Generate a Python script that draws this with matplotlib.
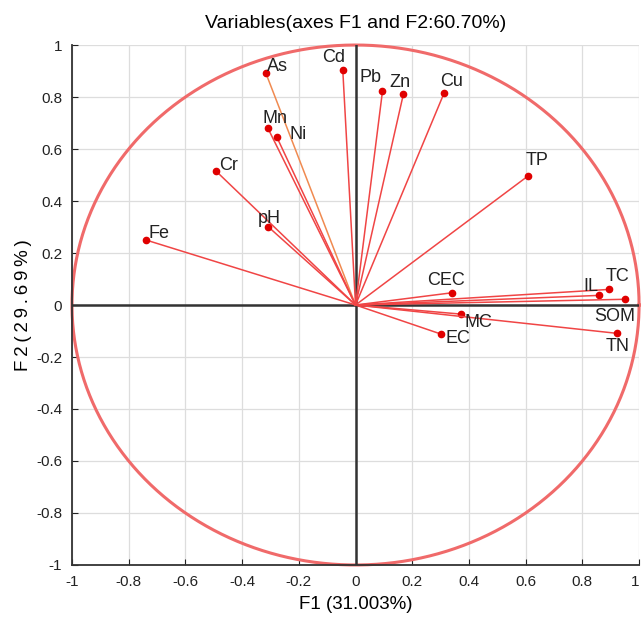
import numpy as np
import matplotlib
matplotlib.use("Agg")
import matplotlib.pyplot as plt

plt.rcParams["font.family"] = ["Liberation Sans", "DejaVu Sans"]

# loadings (F1, F2)
variables = ["As", "Cd", "Pb", "Zn", "Cu", "Mn", "Ni", "Cr", "pH", "Fe",
             "TP", "CEC", "TC", "IL", "SOM", "MC", "EC", "TN"]
f1 = [-0.317, -0.045, 0.095, 0.169, 0.313, -0.310, -0.278, -0.491, -0.308, -0.739,
      0.608, 0.340, 0.895, 0.860, 0.950, 0.372, 0.302, 0.922]
f2 = [0.894, 0.904, 0.822, 0.812, 0.817, 0.682, 0.647, 0.514, 0.301, 0.250,
      0.496, 0.047, 0.060, 0.037, 0.022, -0.035, -0.112, -0.109]
ticks = [-1, -0.8, -0.6, -0.4, -0.2, 0, 0.2, 0.4, 0.6, 0.8, 1]
tick_labels = ["-1", "-0.8", "-0.6", "-0.4", "-0.2", "0", "0.2", "0.4", "0.6", "0.8", "1"]

# label offsets in pixels (dx, dy) from each dot
offsets = {"As": (12, 6), "Cd": (-9, 12), "Pb": (-12, 14), "Zn": (-4, 11),
           "Cu": (7, 11), "Mn": (7, 9), "Ni": (21, 2), "Cr": (12, 6),
           "pH": (1, 8), "Fe": (13, 7), "TP": (9, 16), "CEC": (-6, 12),
           "TC": (8, 13), "IL": (-9, 9), "SOM": (-10, -17), "MC": (17, -8),
           "EC": (17, -4), "TN": (1, -13)}

fig = plt.figure(figsize=(6.41, 6.21), dpi=100)
ax = fig.add_axes([0.1123, 0.0902, 0.8847, 0.8373])
ax.set_xlim(-1, 1)
ax.set_ylim(-1, 1)

ax.grid(True, color="#dddddd", linewidth=0.9)
ax.set_axisbelow(True)

theta = np.linspace(0, 2 * np.pi, 400)
ax.plot(np.cos(theta), np.sin(theta), color="#f06a6a", linewidth=2.2, clip_on=False)

ax.axhline(0, color="#333333", linewidth=1.8)
ax.axvline(0, color="#333333", linewidth=1.8)

for name, x, y in zip(variables, f1, f2):
    col = "#f08a50" if name == "As" else "#f04545"
    ax.plot([0, x], [0, y], color=col, linewidth=1.1)
    ax.plot(x, y, "o", color="#e00000", markersize=4.5)
    dx, dy = offsets[name]
    ax.annotate(name, (x, y), xytext=(dx, dy), textcoords="offset pixels",
                ha="center", va="center", fontsize=13, color="#222222")

ax.set_xticks(ticks)
ax.set_xticklabels(tick_labels)
ax.set_yticks(ticks)
ax.set_yticklabels(tick_labels)
ax.tick_params(direction="in", length=4, labelsize=11, colors="#222222", pad=7)
ax.get_xticklabels()[-1].set_horizontalalignment("right")
for s in ["top", "right"]:
    ax.spines[s].set_visible(False)
for s in ["left", "bottom"]:
    ax.spines[s].set_color("#333333")
    ax.spines[s].set_linewidth(1.3)

ax.set_xlabel("F1 (31.003%)", fontsize=13.5, labelpad=5)
# the reference spaces out the y label letters
ax.set_ylabel("\u2009".join("F2(29.69%)"), fontsize=13.5, labelpad=3)
ax.set_title("Variables(axes F1 and F2:60.70%)", fontsize=14, pad=12)

fig.savefig("out.png", dpi=100)
